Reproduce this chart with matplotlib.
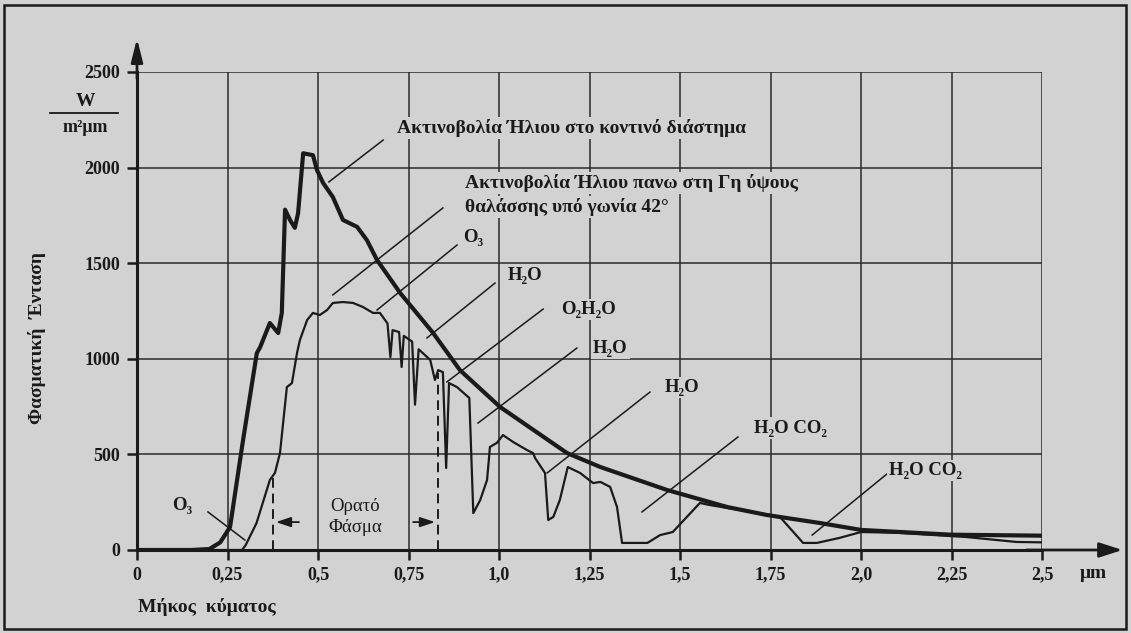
import matplotlib.pyplot as plt
from matplotlib.patches import Rectangle

plt.rcParams['font.family'] = ['Liberation Serif', 'DejaVu Serif']

# wavelength (um) and spectral intensity (W / m^2 um)
space_x = [0.0, 0.15, 0.20, 0.23, 0.257, 0.293, 0.331, 0.34, 0.367, 0.39, 0.40,
           0.409, 0.423, 0.436, 0.445, 0.459, 0.486, 0.497, 0.514, 0.541, 0.569,
           0.608, 0.635, 0.663, 0.727, 0.818, 0.892, 1.003, 1.188, 1.28, 1.464,
           1.63, 1.74, 1.887, 2.0, 2.25, 2.5]
space_y = [0, 0, 5, 40, 120, 575, 1030, 1060, 1187, 1135, 1240,
           1780, 1725, 1685, 1762, 2075, 2065, 1988, 1920, 1846, 1726,
           1690, 1621, 1517, 1344, 1135, 941, 748, 507, 434, 314,
           225, 183, 141, 105, 80, 75]

sea_x = [0.0, 0.29, 0.30, 0.33, 0.367, 0.381, 0.395, 0.414, 0.428, 0.442, 0.45,
         0.47, 0.486, 0.505, 0.525, 0.541, 0.569, 0.597, 0.624, 0.652, 0.671,
         0.692, 0.700, 0.706, 0.724, 0.731, 0.737, 0.760, 0.768, 0.778, 0.81,
         0.823, 0.832, 0.845, 0.854, 0.862, 0.884, 0.918, 0.929, 0.948, 0.967,
         0.975, 0.994, 1.011, 1.039, 1.077, 1.094, 1.10, 1.127, 1.136, 1.15,
         1.168, 1.19, 1.224, 1.26, 1.28, 1.307, 1.326, 1.34, 1.41, 1.445, 1.48,
         1.555, 1.583, 1.63, 1.72, 1.776, 1.84, 1.878, 1.94, 2.0, 2.1, 2.29,
         2.43, 2.5]
sea_y = [0, 0, 25, 140, 366, 403, 507, 852, 873, 1030, 1098,
         1203, 1240, 1229, 1255, 1292, 1297, 1292, 1271, 1240, 1240,
         1185, 1009, 1150, 1140, 957, 1120, 1090, 760, 1050, 994,
         889, 941, 930, 429, 873, 852, 795, 193, 261, 366,
         539, 560, 601, 565, 523, 507, 480, 403, 157, 173,
         261, 434, 403, 350, 356, 330, 225, 37, 37, 78, 94,
         246, 235, 220, 193, 173, 37, 37, 63, 94, 90, 68,
         42, 40]

x_ticks = [0, 0.25, 0.5, 0.75, 1.0, 1.25, 1.5, 1.75, 2.0, 2.25, 2.5]
x_tick_labels = ['0', '0,25', '0,5', '0,75', '1,0', '1,25', '1,5', '1,75', '2,0', '2,25', '2,5']
y_ticks = [0, 500, 1000, 1500, 2000, 2500]

visible_edges = [0.376, 0.831]
visible_tops = [382, 926]

# absorption labels: text, text position, leader start, leader end
absorbers = [
    ('O₃', (0.928, 1637), (0.884, 1595), (0.663, 1255)),
    ('H₂O', (1.072, 1438), (0.989, 1396), (0.801, 1109)),
    ('O₂H₂O', (1.246, 1260), (1.122, 1260), (0.856, 879)),
    ('H₂O', (1.307, 1056), (1.215, 1056), (0.942, 664)),
    ('H₂O', (1.506, 852), (1.417, 826), (1.133, 403)),
    ('H₂O CO₂', (1.804, 638), (1.660, 591), (1.395, 199)),
    ('H₂O CO₂', (2.177, 418), (2.075, 403), (1.865, 78)),
    ('O₃', (0.124, 235), (0.196, 199), (0.298, 52)),
]

bg = '#d2d2d2'
ink = '#1a1a1a'

fig = plt.figure(figsize=(11.31, 6.33), dpi=100, facecolor=bg)
ax = fig.add_axes([137 / 1131, 83 / 633, 905 / 1131, 478 / 633])
ax.set_facecolor(bg)
ax.set_xlim(0, 2.5)
ax.set_ylim(0, 2500)

# grid
for gx in x_ticks[1:]:
    ax.axvline(gx, color='#2a2a2a', lw=1.1, zorder=1)
for gy in y_ticks[1:]:
    ax.axhline(gy, color='#2a2a2a', lw=1.1, zorder=1)
for s in ['top', 'right']:
    ax.spines[s].set_visible(False)
for s in ['left', 'bottom']:
    ax.spines[s].set_linewidth(2.2)
    ax.spines[s].set_color(ink)

ax.set_xticks(x_ticks)
ax.set_xticklabels(x_tick_labels)
ax.set_yticks(y_ticks)
ax.tick_params(axis='both', direction='out', length=7, width=1.8, color=ink,
               labelsize=13, pad=5)
for lab in ax.get_xticklabels() + ax.get_yticklabels():
    lab.set_fontweight('bold')
    lab.set_color(ink)

# axis arrows
ax.annotate('', xy=(2.73, 0), xytext=(2.45, 0), annotation_clip=False,
            arrowprops=dict(arrowstyle='-|>,head_length=1.4,head_width=0.45',
                            color=ink, lw=2))
ax.annotate('', xy=(0, 2690), xytext=(0, 2450), annotation_clip=False,
            arrowprops=dict(arrowstyle='-|>,head_length=1.4,head_width=0.35',
                            color=ink, lw=2))

# curves
ax.plot(space_x, space_y, color=ink, lw=3.0, zorder=4, solid_joinstyle='round')
ax.plot(sea_x, sea_y, color=ink, lw=1.6, zorder=4)

# visible spectrum
for vx, vtop in zip(visible_edges, visible_tops):
    ax.plot([vx, vx], [0, vtop], color=ink, lw=1.4, ls=(0, (5, 3)), zorder=3)
ax.annotate('', xy=(visible_edges[0], 146), xytext=(0.455, 146),
            arrowprops=dict(arrowstyle='-|>,head_length=0.9,head_width=0.3', color=ink, lw=1.3))
ax.annotate('', xy=(visible_edges[1], 146), xytext=(0.755, 146),
            arrowprops=dict(arrowstyle='-|>,head_length=0.9,head_width=0.3', color=ink, lw=1.3))
tb = dict(facecolor=bg, edgecolor='none', pad=1.5)
ax.text(0.603, 225, 'Ορατό', ha='center', va='center', fontsize=13.5, color=ink, bbox=tb, zorder=5)
ax.text(0.603, 120, 'Φάσμα', ha='center', va='center', fontsize=13.5, color=ink, bbox=tb, zorder=5)

# curve labels
ax.plot([0.680, 0.530], [2144, 1925], color=ink, lw=1.1, zorder=3)
ax.text(0.718, 2207, 'Ακτινοβολία Ήλιου στο κοντινό διάστημα', ha='left', va='center',
        fontsize=14, fontweight='bold', color=ink, bbox=tb, zorder=5)
ax.plot([0.845, 0.541], [1789, 1334], color=ink, lw=1.1, zorder=3)
ax.text(0.906, 1919, 'Ακτινοβολία Ήλιου πανω στη Γη ύψους', ha='left', va='center',
        fontsize=14, fontweight='bold', color=ink, bbox=tb, zorder=5)
ax.text(0.906, 1794, 'θαλάσσης υπό γωνία 42°', ha='left', va='center',
        fontsize=14, fontweight='bold', color=ink, bbox=tb, zorder=5)

for name, tpos, p0, p1 in absorbers:
    ax.plot([p0[0], p1[0]], [p0[1], p1[1]], color=ink, lw=1.1, zorder=3)
    ax.text(tpos[0], tpos[1], name, ha='center', va='center', fontsize=13.5,
            fontweight='bold', color=ink, bbox=tb, zorder=5)

# axis titles and unit
fig.text(37 / 1131, 1 - 338 / 633, 'Φασματική  Ένταση', rotation=90, ha='center',
         va='center', fontsize=14, fontweight='bold', color=ink)
fig.text(207 / 1131, 1 - 607 / 633, 'Μήκος  κύματος', ha='center', va='center',
         fontsize=14, fontweight='bold', color=ink)
fig.text(1093 / 1131, 1 - 573 / 633, 'μm', ha='center', va='center',
         fontsize=14, fontweight='bold', color=ink)
fig.text(85 / 1131, 1 - 102 / 633, 'W', ha='center', va='center',
         fontsize=14, fontweight='bold', color=ink)
fig.text(85 / 1131, 1 - 127 / 633, 'm²μm', ha='center', va='center',
         fontsize=13, fontweight='bold', color=ink)
fig.add_artist(plt.Line2D([50 / 1131, 118 / 1131], [1 - 113 / 633] * 2,
                          color=ink, lw=1.3))

# outer frame
fig.add_artist(Rectangle((4 / 1131, 4 / 633), 1122 / 1131, 624 / 633, fill=False,
                         edgecolor=ink, lw=1.8, transform=fig.transFigure))

fig.savefig('out.png', dpi=100, facecolor=bg)
